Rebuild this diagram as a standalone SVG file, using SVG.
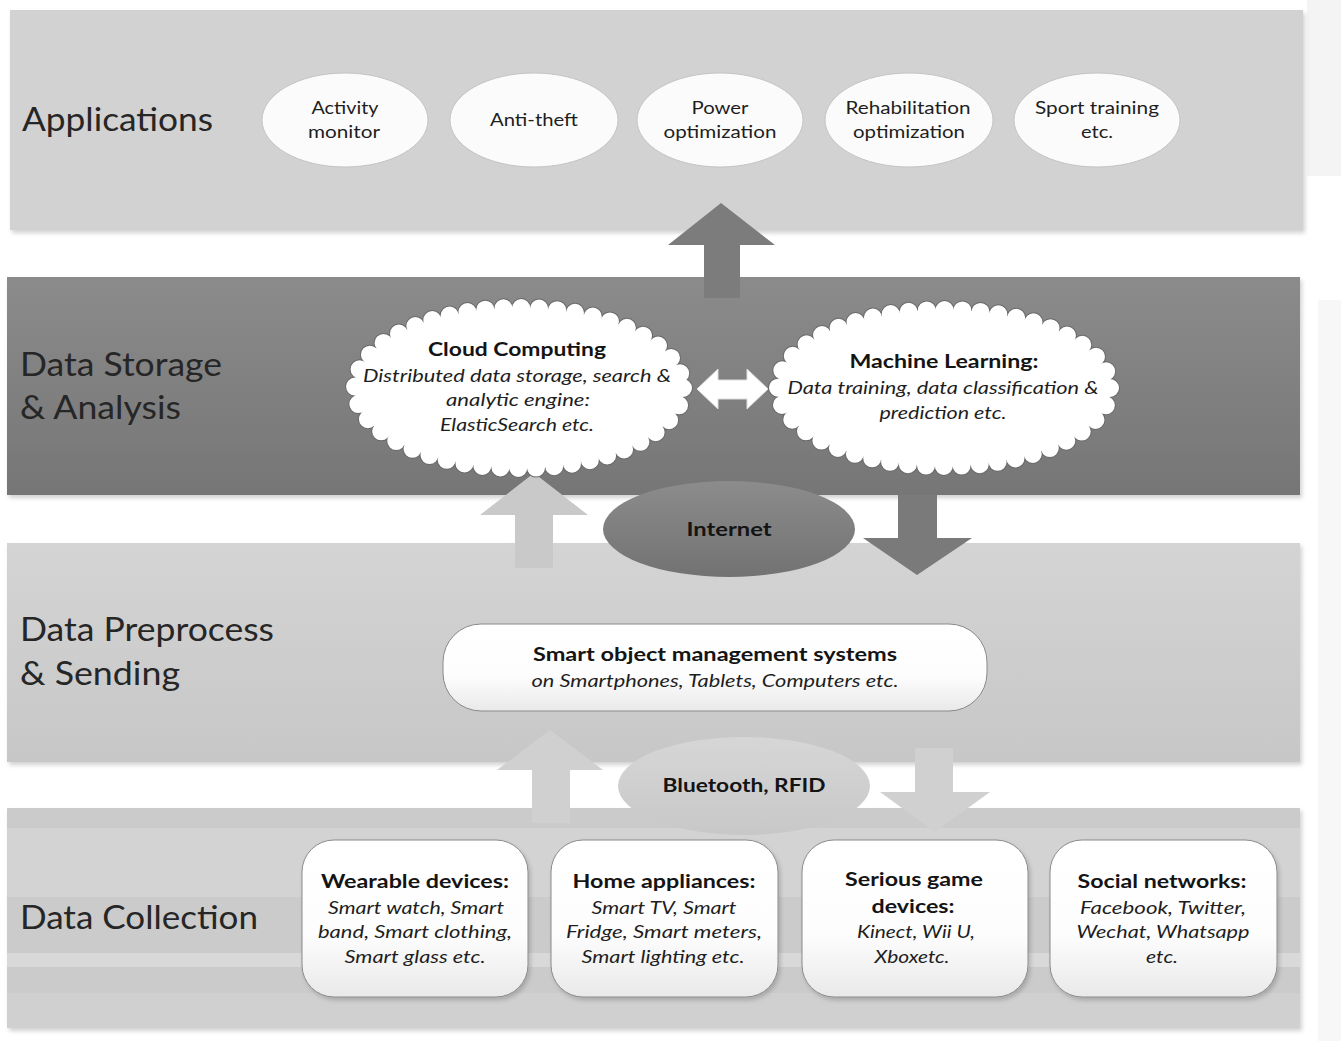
<svg xmlns="http://www.w3.org/2000/svg" width="1341" height="1041" viewBox="0 0 1341 1041">
<defs>
<style>
.lbl{font-family:Lato,"Open Sans","Liberation Sans",sans-serif;font-size:33px;fill:#262626}
.t{font-family:Lato,"Open Sans","Liberation Sans",sans-serif;font-size:18px;fill:#1e1e1e;text-anchor:middle}
.b{font-weight:bold;fill:#141414}
.i{font-style:italic}
.app{fill:#fbfbfb;stroke:#c4c4c4;stroke-width:1}
.box{fill:url(#gBox);stroke:#8a8a8a;stroke-width:1}
.cl-o{fill:none;stroke:#6a6a6a;stroke-width:20;stroke-dasharray:0 18;stroke-linecap:round}
.cl-i{fill:#fff;stroke:#fff;stroke-width:18;stroke-dasharray:0 18;stroke-linecap:round}
</style>
<linearGradient id="gStore" x1="0" y1="0" x2="0" y2="1"><stop offset="0" stop-color="#8b8b8b"/><stop offset="1" stop-color="#767676"/></linearGradient>
<linearGradient id="gPre" x1="0" y1="0" x2="0" y2="1"><stop offset="0" stop-color="#d4d4d4"/><stop offset="1" stop-color="#c7c7c7"/></linearGradient>
<linearGradient id="gNet" x1="0" y1="0" x2="0" y2="1"><stop offset="0" stop-color="#8c8c8c"/><stop offset="1" stop-color="#727272"/></linearGradient>
<linearGradient id="gBt" x1="0" y1="0" x2="0" y2="1"><stop offset="0" stop-color="#d6d6d6"/><stop offset="1" stop-color="#c8c8c8"/></linearGradient>
<linearGradient id="gBox" x1="0" y1="0" x2="0" y2="1"><stop offset="0" stop-color="#ffffff"/><stop offset="0.6" stop-color="#fdfdfd"/><stop offset="1" stop-color="#e9e9e9"/></linearGradient>
<filter id="sh" x="-5%" y="-5%" width="110%" height="115%"><feDropShadow dx="2" dy="3" stdDeviation="2" flood-color="#000" flood-opacity="0.18"/></filter>
</defs>

<rect x="1307" y="0" width="34" height="176" fill="#f4f4f4"/>
<rect x="1318" y="300" width="23" height="741" fill="#f7f7f7"/>

<g id="layer-applications">
<rect x="10" y="10" width="1293" height="220" fill="#d2d2d2" filter="url(#sh)"/>
<text class="lbl" x="22" y="131" textLength="191" lengthAdjust="spacingAndGlyphs">Applications</text>
</g>
<g id="layer-storage">
<rect x="7" y="277" width="1293" height="218" fill="url(#gStore)" filter="url(#sh)"/>
<text class="lbl" x="20" y="376" textLength="202" lengthAdjust="spacingAndGlyphs">Data Storage</text>
<text class="lbl" x="20" y="419" textLength="161" lengthAdjust="spacingAndGlyphs">&amp; Analysis</text>
</g>
<g id="layer-preprocess">
<rect x="7" y="543" width="1293" height="219" fill="url(#gPre)" filter="url(#sh)"/>
<text class="lbl" x="20" y="641" textLength="254" lengthAdjust="spacingAndGlyphs">Data Preprocess</text>
<text class="lbl" x="20" y="685" textLength="160" lengthAdjust="spacingAndGlyphs">&amp; Sending</text>
</g>
<g id="layer-collection">
<rect x="7" y="808" width="1293" height="220" fill="#cbcbcb" filter="url(#sh)"/>
<rect x="7" y="828" width="1293" height="69" fill="#d3d3d3"/>
<rect x="7" y="953" width="1293" height="14" fill="#d9d9d9"/>
<rect x="7" y="993" width="1293" height="35" fill="#d0d0d0"/>
<text class="lbl" x="20" y="929" textLength="238" lengthAdjust="spacingAndGlyphs">Data Collection</text>
</g>

<g id="connectors">
<polygon points="721,203 775,245 740,245 740,298 704,298 704,245 668,245" fill="#7c7c7c"/>
<polygon points="697,389 718,369 718,380 747,380 747,369 768,389 747,409 747,399 718,399 718,409" fill="#ffffff" stroke="#dddddd" stroke-width="1"/>
<polygon points="534,473 588,515 553,515 553,568 515,568 515,515 480,515" fill="#c9c9c9"/>
<polygon points="898,495 937,495 937,538 972,538 917,575 863,538 898,538" fill="#7a7a7a"/>
<polygon points="550,730 603,770 570,770 570,823 532,823 532,770 497,770" fill="#d0d0d0"/>
<polygon points="915,748 953,748 953,792 990,792 935,832 880,792 915,792" fill="#d0d0d0"/>
</g>

<g id="app-activity"><ellipse class="app" cx="345" cy="120" rx="83" ry="47"/><text class="t" x="345" y="114" textLength="67" lengthAdjust="spacingAndGlyphs">Activity</text><text class="t" x="344" y="138" textLength="72" lengthAdjust="spacingAndGlyphs">monitor</text></g>
<g id="app-antitheft"><ellipse class="app" cx="534" cy="120" rx="84" ry="47"/><text class="t" x="534" y="126" textLength="88" lengthAdjust="spacingAndGlyphs">Anti-theft</text></g>
<g id="app-power"><ellipse class="app" cx="720" cy="120" rx="83" ry="47"/><text class="t" x="720" y="114" textLength="57" lengthAdjust="spacingAndGlyphs">Power</text><text class="t" x="720" y="138" textLength="113" lengthAdjust="spacingAndGlyphs">optimization</text></g>
<g id="app-rehab"><ellipse class="app" cx="909" cy="120" rx="84" ry="47"/><text class="t" x="908" y="114" textLength="125" lengthAdjust="spacingAndGlyphs">Rehabilitation</text><text class="t" x="909" y="138" textLength="112" lengthAdjust="spacingAndGlyphs">optimization</text></g>
<g id="app-sport"><ellipse class="app" cx="1097" cy="120" rx="83" ry="47"/><text class="t" x="1097" y="114" textLength="124" lengthAdjust="spacingAndGlyphs">Sport training</text><text class="t" x="1097" y="138" textLength="32" lengthAdjust="spacingAndGlyphs">etc.</text></g>

<g id="cloud-computing">
<ellipse class="cl-o" cx="519" cy="388" rx="164" ry="80"/>
<ellipse class="cl-i" cx="519" cy="388" rx="164" ry="80"/>
<text class="t b" x="517" y="356" textLength="178" lengthAdjust="spacingAndGlyphs">Cloud Computing</text>
<text class="t i" x="517" y="382" textLength="308" lengthAdjust="spacingAndGlyphs">Distributed data storage, search &amp;</text>
<text class="t i" x="518" y="406" textLength="144" lengthAdjust="spacingAndGlyphs">analytic engine:</text>
<text class="t i" x="517" y="431" textLength="154" lengthAdjust="spacingAndGlyphs">ElasticSearch etc.</text>
</g>
<g id="machine-learning">
<ellipse class="cl-o" cx="944" cy="388" rx="166" ry="78"/>
<ellipse class="cl-i" cx="944" cy="388" rx="166" ry="78"/>
<text class="t b" x="944" y="368" textLength="189" lengthAdjust="spacingAndGlyphs">Machine Learning:</text>
<text class="t i" x="943" y="394" textLength="311" lengthAdjust="spacingAndGlyphs">Data training, data classification &amp;</text>
<text class="t i" x="943" y="419" textLength="127" lengthAdjust="spacingAndGlyphs">prediction etc.</text>
</g>

<g id="internet">
<ellipse cx="729" cy="529" rx="126" ry="48" fill="url(#gNet)"/>
<text class="t b" x="729" y="536" textLength="85" lengthAdjust="spacingAndGlyphs">Internet</text>
</g>

<g id="smart-object">
<rect x="443" y="624" width="544" height="87" rx="38" class="box"/>
<text class="t b" x="715" y="661" textLength="364" lengthAdjust="spacingAndGlyphs">Smart object management systems</text>
<text class="t i" x="715" y="687" textLength="367" lengthAdjust="spacingAndGlyphs">on Smartphones, Tablets, Computers etc.</text>
</g>

<g id="bluetooth">
<ellipse cx="744" cy="786" rx="126" ry="49" fill="url(#gBt)"/>
<text class="t b" x="744" y="792" textLength="163" lengthAdjust="spacingAndGlyphs">Bluetooth, RFID</text>
</g>

<g id="wearable">
<rect x="302" y="840" width="226" height="157" rx="32" class="box" filter="url(#sh)"/>
<text class="t b" x="415" y="888" textLength="188" lengthAdjust="spacingAndGlyphs">Wearable devices:</text>
<text class="t i" x="416" y="914" textLength="176" lengthAdjust="spacingAndGlyphs">Smart watch, Smart</text>
<text class="t i" x="415" y="938" textLength="194" lengthAdjust="spacingAndGlyphs">band, Smart clothing,</text>
<text class="t i" x="415" y="963" textLength="141" lengthAdjust="spacingAndGlyphs">Smart glass etc.</text>
</g>
<g id="home">
<rect x="551" y="840" width="227" height="157" rx="32" class="box" filter="url(#sh)"/>
<text class="t b" x="664" y="888" textLength="183" lengthAdjust="spacingAndGlyphs">Home appliances:</text>
<text class="t i" x="664" y="914" textLength="145" lengthAdjust="spacingAndGlyphs">Smart TV, Smart</text>
<text class="t i" x="664" y="938" textLength="196" lengthAdjust="spacingAndGlyphs">Fridge, Smart  meters,</text>
<text class="t i" x="663" y="963" textLength="163" lengthAdjust="spacingAndGlyphs">Smart lighting etc.</text>
</g>
<g id="serious-game">
<rect x="802" y="840" width="226" height="157" rx="32" class="box" filter="url(#sh)"/>
<text class="t b" x="914" y="886" textLength="138" lengthAdjust="spacingAndGlyphs">Serious game</text>
<text class="t b" x="913" y="913" textLength="83" lengthAdjust="spacingAndGlyphs">devices:</text>
<text class="t i" x="916" y="938" textLength="118" lengthAdjust="spacingAndGlyphs">Kinect, Wii U,</text>
<text class="t i" x="912" y="963" textLength="75" lengthAdjust="spacingAndGlyphs">Xboxetc.</text>
</g>
<g id="social">
<rect x="1050" y="840" width="227" height="157" rx="32" class="box" filter="url(#sh)"/>
<text class="t b" x="1162" y="888" textLength="169" lengthAdjust="spacingAndGlyphs">Social networks:</text>
<text class="t i" x="1163" y="914" textLength="166" lengthAdjust="spacingAndGlyphs">Facebook, Twitter,</text>
<text class="t i" x="1163" y="938" textLength="173" lengthAdjust="spacingAndGlyphs">Wechat, Whatsapp</text>
<text class="t i" x="1162" y="963" textLength="32" lengthAdjust="spacingAndGlyphs">etc.</text>
</g>
</svg>
